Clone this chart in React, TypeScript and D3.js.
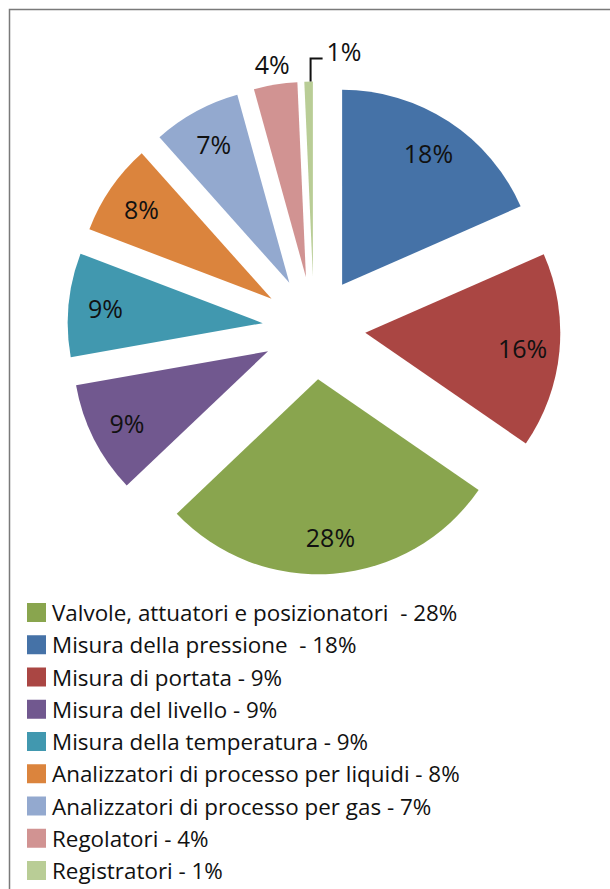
import React, { useEffect, useRef } from 'react';
import * as d3 from 'd3';

// slice order, clockwise from 12 o'clock (values read from the slice angles,
// the labels show them rounded)
const sliceValues = [18.4, 16.2, 28.3, 9.3, 8.6, 7.6, 7.3, 3.6, 0.7];
const sliceColors = ['#4572A7', '#AA4643', '#89A54E', '#71588F', '#4198AF', '#DB843D', '#93A9CF', '#D19392', '#B9CD96'];

// legend order (index into the slice arrays)
const legendLabels = [
    'Valvole, attuatori e posizionatori  - 28%',
    'Misura della pressione  - 18%',
    'Misura di portata - 9%',
    'Misura del livello - 9%',
    'Misura della temperatura - 9%',
    'Analizzatori di processo per liquidi - 8%',
    'Analizzatori di processo per gas - 7%',
    'Regolatori - 4%',
    'Registratori - 1%',
];
const legendSlice = [2, 0, 1, 3, 4, 5, 6, 7, 8];

export default function App() {
    const svgRef = useRef<SVGSVGElement>(null);

    useEffect(() => {
        if (!svgRef.current) return;
        const width = 610;
        const height = 889;

        d3.select(svgRef.current).selectAll('*').remove();
        const svg = d3.select(svgRef.current)
            .attr('width', width)
            .attr('height', height)
            .attr('viewBox', `0 0 ${width} ${height}`);

        svg.append('rect').attr('width', width).attr('height', height).attr('fill', '#fff');

        // frame (left + top only)
        svg.append('path')
            .attr('d', `M9.5,${height} V9.5 H${width}`)
            .attr('fill', 'none')
            .attr('stroke', '#7a7a7a')
            .attr('stroke-width', 1.5);

        const cx = 314;
        const cy = 328;
        const radius = 195;
        const explode = 51.5;

        const pie = d3.pie<number>().sort(null).value(d => d);
        const arcs = pie(sliceValues);
        const arc = d3.arc<d3.PieArcDatum<number>>().innerRadius(0).outerRadius(radius);

        const mid = (d: d3.PieArcDatum<number>) => (d.startAngle + d.endAngle) / 2;
        const dir = (a: number) => [Math.sin(a), -Math.cos(a)];
        const pct = (v: number) => `${Math.round(v)}%`;

        const g = svg.append('g').attr('transform', `translate(${cx},${cy})`);

        const slice = g.selectAll('g.slice')
            .data(arcs)
            .join('g')
            .attr('class', 'slice')
            .attr('transform', d => {
                const [ux, uy] = dir(mid(d));
                return `translate(${ux * explode},${uy * explode})`;
            });

        slice.append('path')
            .attr('d', arc as any)
            .attr('fill', (d, i) => sliceColors[i]);

        const labelFont = '"Open Sans", sans-serif';
        const labelSize = '25px';

        // labels inside the bigger slices
        slice.filter(d => d.data >= 5)
            .append('text')
            .attr('x', d => dir(mid(d))[0] * 158)
            .attr('y', d => dir(mid(d))[1] * 158)
            .attr('text-anchor', 'middle')
            .attr('dominant-baseline', 'central')
            .attr('fill', '#111')
            .style('font-family', labelFont)
            .style('font-size', labelSize)
            .text(d => pct(d.data));

        // 4% outside
        slice.filter(d => d.data > 2 && d.data < 5)
            .append('text')
            .attr('x', d => dir(mid(d))[0] * 216)
            .attr('y', d => dir(mid(d))[1] * 216)
            .attr('text-anchor', 'middle')
            .attr('dominant-baseline', 'central')
            .attr('fill', '#111')
            .style('font-family', labelFont)
            .style('font-size', labelSize)
            .text(d => pct(d.data));

        // 1% with leader line
        const tiny = slice.filter(d => d.data <= 2);
        tiny.append('path')
            .attr('d', d => {
                const [ux, uy] = dir(mid(d));
                const x = ux * radius + 2;
                const y = uy * radius;
                return `M${x},${y} V${y - 23} H${x + 12}`;
            })
            .attr('fill', 'none')
            .attr('stroke', '#111')
            .attr('stroke-width', 2);
        tiny.append('text')
            .attr('x', d => dir(mid(d))[0] * radius + 18)
            .attr('y', d => dir(mid(d))[1] * radius - 31)
            .attr('dominant-baseline', 'central')
            .attr('fill', '#111')
            .style('font-family', labelFont)
            .style('font-size', labelSize)
            .text(d => pct(d.data));

        // legend
        const legendY = d3.scaleLinear().domain([0, 8]).range([603, 861]);
        const legend = svg.selectAll('g.legend')
            .data(legendLabels)
            .join('g')
            .attr('class', 'legend')
            .attr('transform', (d, i) => `translate(27,${legendY(i)})`);

        legend.append('rect')
            .attr('width', 19)
            .attr('height', 19)
            .attr('fill', (d, i) => sliceColors[legendSlice[i]]);

        legend.append('text')
            .attr('x', 25)
            .attr('y', 18)
            .attr('fill', '#111')
            .style('font-family', '"Open Sans", sans-serif')
            .style('font-size', '22.4px')
            .style('white-space', 'pre')
            .text(d => d);
    }, []);

    return (
        <svg ref={svgRef} style={{ position: 'absolute', left: 0, top: 0, display: 'block' }}></svg>
    );
}
